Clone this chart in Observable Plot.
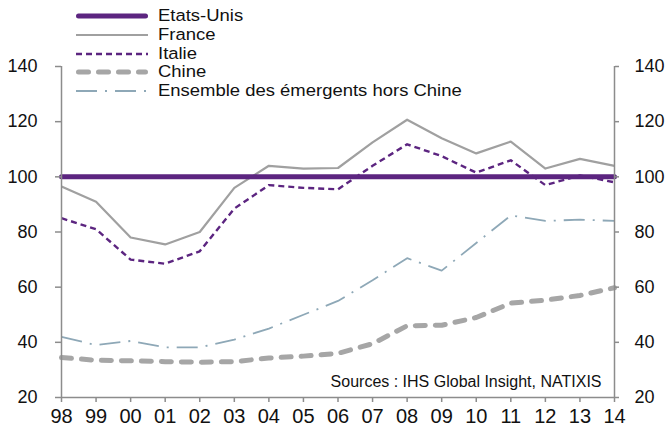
<!DOCTYPE html>
<html>
<head>
<meta charset="utf-8">
<script src="https://cdn.jsdelivr.net/npm/d3@7"></script>
<script src="https://cdn.jsdelivr.net/npm/@observablehq/plot@0.6"></script>
<style>
  body { margin: 0; background: #fff; font-family: "Liberation Sans", Arial, sans-serif; }
  #wrap { position: relative; width: 669px; height: 432px; }
  #legend { position: absolute; left: 76px; top: 7px; font-size: 16.8px; color: #111; }
  #legend .row { display: flex; align-items: center; height: 18.7px; }
  #legend svg { width: 74px; height: 10px; margin-right: 8px; overflow: visible; flex: none; }
  #legend span { display: inline-block; height: 18px; line-height: 18px; white-space: nowrap;
                 transform: scaleX(1.1); transform-origin: 0 50%; }
</style>
</head>
<body>
<div id="wrap"><div id="chart"></div><div id="legend"></div></div>
<script>
const years = [1998,1999,2000,2001,2002,2003,2004,2005,2006,2007,2008,2009,2010,2011,2012,2013,2014];
const etatsUnis = [100,100,100,100,100,100,100,100,100,100,100,100,100,100,100,100,100];
const france = [96.5,91,78,75.5,80,96,104,103,103.2,112.5,120.7,114,108.5,112.8,103,106.5,104];
const italie = [85,81,70,68.5,73,88.5,97,96,95.5,104,111.8,107.5,101.5,106,97,100.5,98];
const chine = [34.5,33.5,33.3,33,32.8,33,34.3,35,36,39.5,46,46.2,49,54.2,55.3,57,59.8];
const emergents = [42,39,40.5,38.2,38.2,41,45,50,55,62.5,70.5,66,76,86,84,84.5,84];
const yTicks = [20,40,60,80,100,120,140];
const sourceText = "Sources : IHS Global Insight, NATIXIS";

const series = [
  {name: "Etats-Unis", values: etatsUnis, stroke: "#5c2580", width: 5, dash: null, cap: "round"},
  {name: "France", values: france, stroke: "#a0a0a0", width: 2.2, dash: null, cap: "butt"},
  {name: "Italie", values: italie, stroke: "#5c2580", width: 2.4, dash: "6,4", cap: "butt"},
  {name: "Chine", values: chine, stroke: "#a6a6a6", width: 5, dash: "10,10", cap: "round"},
  {name: "Ensemble des émergents hors Chine", values: emergents, stroke: "#8ea8b7", width: 1.8, dash: "21,8,2,8", cap: "butt"}
];
// draw order: bottom-most first, US line on top of France
const drawOrder = [4, 3, 1, 2, 0];

const axisColor = "#8c8c8c";
const fmt = d => String(d % 100).padStart(2, "0");

const marks = [];
for (const i of drawOrder) {
  const s = series[i];
  const data = years.map((y, k) => ({year: y, value: s.values[k]}));
  marks.push(Plot.line(data, {
    x: "year", y: "value", stroke: s.stroke, strokeWidth: s.width,
    strokeDasharray: s.dash ?? undefined, strokeLinecap: s.cap, strokeLinejoin: "round"
  }));
}
marks.push(
  Plot.ruleY([yTicks[0]], {stroke: axisColor, strokeWidth: 1.5}),
  Plot.ruleX([years[0], years[years.length - 1]], {stroke: axisColor, strokeWidth: 1.5}),
  Plot.axisY({anchor: "left", ticks: yTicks, tickSize: 6, tickPadding: 18, fontSize: 18, stroke: axisColor, strokeWidth: 1.5, color: "#111", label: null}),
  Plot.axisY({anchor: "right", ticks: yTicks, tickSize: 4, tickPadding: 16, fontSize: 18, stroke: axisColor, strokeWidth: 1.5, color: "#111", label: null}),
  Plot.axisX({ticks: years, tickFormat: fmt, tickSize: 5, tickPadding: 6, fontSize: 20, stroke: axisColor, strokeWidth: 1.5, color: "#111", label: null}),
  Plot.text([sourceText], {text: d => d, frameAnchor: "bottom-right", dx: -13, dy: -16, lineAnchor: "middle", fontSize: 16, fill: "#111"})
);

const chart = Plot.plot({
  width: 669, height: 432,
  marginLeft: 61, marginRight: 55, marginTop: 66, marginBottom: 35,
  style: {fontFamily: "'Liberation Sans', Arial, sans-serif", background: "white", overflow: "visible"},
  x: {domain: [years[0], years[years.length - 1]], axis: null},
  y: {domain: [yTicks[0], yTicks[yTicks.length - 1]], axis: null},
  marks
});
document.getElementById("chart").appendChild(chart);

const legend = document.getElementById("legend");
for (const s of series) {
  const row = document.createElement("div");
  row.className = "row";
  const ns = "http://www.w3.org/2000/svg";
  const svg = document.createElementNS(ns, "svg");
  const ln = document.createElementNS(ns, "line");
  const inset = s.cap === "round" ? s.width / 2 : 0;
  ln.setAttribute("x1", inset); ln.setAttribute("x2", 72 - inset);
  ln.setAttribute("y1", 5); ln.setAttribute("y2", 5);
  ln.setAttribute("stroke", s.stroke);
  ln.setAttribute("stroke-width", s.width);
  ln.setAttribute("stroke-linecap", s.cap);
  if (s.dash) ln.setAttribute("stroke-dasharray", s.dash);
  svg.appendChild(ln);
  row.appendChild(svg);
  const t = document.createElement("span");
  t.textContent = s.name;
  row.appendChild(t);
  legend.appendChild(row);
}
</script>
</body>
</html>
